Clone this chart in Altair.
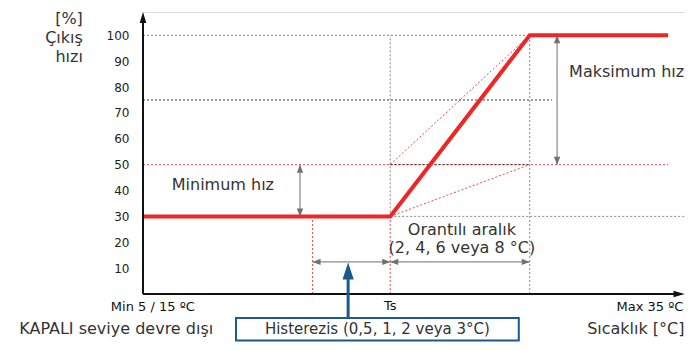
import altair as alt
import pandas as pd

FONT = "DejaVu Sans"

# ---- values (schematic temperature axis) ----
y_ticks = [10, 20, 30, 40, 50, 60, 70, 80, 90, 100]
X_MIN, X_HYST, X_TS, X_TMAX, X_END, X_AXIS_END = 0, 31, 45.2, 70.7, 96, 99.0
Y_MIN, Y_MID, Y_Q, Y_MAX, Y_TOP = 30, 50, 75, 100, 109

curve_x = [X_MIN, X_TS, X_TMAX, X_END]
curve_y = [Y_MIN, Y_MIN, Y_MAX, Y_MAX]

X_ARR_MAX, X_ARR_MIN, Y_ARR_H = 75.7, 28.7, 12.4
X_BLUE, Y_BLUE_BASE = 37.5, -9.3
BOX_X, BOX_X2, BOX_Y, BOX_Y2 = 17, 68.7, -9.3, -18.0

XD = 542 / 5.47
xs = alt.Scale(domain=[0, XD], nice=False, zero=False)
ys = alt.Scale(domain=[0, Y_TOP], nice=False, zero=False)

YAX = alt.Axis(values=y_ticks, domain=False, ticks=False, grid=False, title=None,
               labelFont=FONT, labelFontSize=12, labelColor="#222222", labelPadding=14)


def X(f):
    return alt.X(f, scale=xs, axis=None)


def Y(f):
    return alt.Y(f, scale=ys, axis=YAX)


def seg_layer(x1, y1, x2, y2, color, width=1, dash=None):
    df = pd.DataFrame({"x": x1, "y": y1, "x2": x2, "y2": y2})
    kw = dict(color=color, strokeWidth=width)
    if dash:
        kw["strokeDash"] = dash
    return alt.Chart(df).mark_rule(**kw).encode(
        x=X("x:Q"), y=Y("y:Q"), x2="x2:Q", y2="y2:Q",
    )


RED_DOT = "#f04a4a"
GRAY_DOT = "#8a8a8a"
DARK_DOT = "#3a3a3a"
RED = "#ee2626"
ARROW = "#707070"
BLUE = "#1a5a8e"
TXT = "#333333"

# dotted guide lines
red_dotted = seg_layer(
    [X_MIN, X_TS, X_HYST, X_TS, X_TS],
    [Y_MID, 0, 0, Y_MID, Y_MIN],
    [X_END, X_TS, X_HYST, X_TMAX, X_TMAX],
    [Y_MID, Y_MIN, Y_MIN, Y_MAX, Y_MID],
    RED_DOT, 1, [2, 2],
)
gray_dotted = seg_layer(
    [X_MIN, X_TS, X_TMAX, X_TS],
    [Y_MAX, Y_MIN, 0, Y_MIN],
    [X_TMAX, X_AXIS_END, X_TMAX, X_TS],
    [Y_MAX, Y_MIN, Y_MAX, Y_MAX],
    GRAY_DOT, 1, [2, 2],
)
dark_dotted = seg_layer(
    [X_MIN, X_TS],
    [Y_Q, Y_MID],
    [74.8, X_TMAX],
    [Y_Q, Y_MID],
    DARK_DOT, 1, [2, 2],
)

# main red curve
curve_df = pd.DataFrame({"x": curve_x, "y": curve_y, "o": range(len(curve_x))})
curve = alt.Chart(curve_df).mark_line(color=RED, strokeWidth=4, strokeJoin="miter").encode(
    x=X("x:Q"), y=Y("y:Q"), order="o:Q",
)

# gray dimension arrows (shafts)
shafts = seg_layer(
    [X_ARR_MAX, X_ARR_MIN, X_HYST, X_TS],
    [Y_MID, Y_MIN, Y_ARR_H, Y_ARR_H],
    [X_ARR_MAX, X_ARR_MIN, X_TS, X_TMAX],
    [Y_MAX, Y_MID, Y_ARR_H, Y_ARR_H],
    ARROW, 1,
)

TIP = "M0,0L-0.4,1L0.4,1Z"
TIP_AX = "M0,0L-0.3,1L0.3,1Z"
TIP_BLUE = "M0,0L-0.33,1L0.33,1Z"


def heads(xv, yv, ang, color, size, shape):
    df = pd.DataFrame({"x": xv, "y": yv, "a": ang})
    return alt.Chart(df).mark_point(
        shape=shape, filled=True, color=color, size=size, opacity=1, strokeWidth=0
    ).encode(
        x=X("x:Q"), y=Y("y:Q"), angle=alt.Angle("a:Q", scale=None),
    )


gray_heads = heads(
    [X_ARR_MAX, X_ARR_MAX, X_ARR_MIN, X_ARR_MIN, X_HYST, X_TS, X_TS, X_TMAX],
    [Y_MAX, Y_MID, Y_MID, Y_MIN, Y_ARR_H, Y_ARR_H, Y_ARR_H, Y_ARR_H],
    [0, 180, 0, 180, 270, 90, 270, 90],
    ARROW, 256, TIP,
)

# axes lines and arrow heads
axes_lines = seg_layer([X_MIN, X_MIN], [0, 0], [X_MIN, X_AXIS_END - 1], [Y_TOP - 2, 0], "#111111", 2)
axes_heads = heads([X_MIN, X_AXIS_END], [Y_TOP, 0], [0, 90], "#111111", 484, TIP_AX)

# blue callout
blue_shaft = seg_layer([X_BLUE], [Y_BLUE_BASE], [X_BLUE], [Y_ARR_H - 3], BLUE, 3)
blue_head = heads([X_BLUE], [Y_ARR_H - 0.2], [0], BLUE, 1156, TIP_BLUE)
box = alt.Chart(pd.DataFrame({"x": [BOX_X], "x2": [BOX_X2], "y": [BOX_Y], "y2": [BOX_Y2]})).mark_rect(
    fill="white", stroke=BLUE, strokeWidth=2
).encode(x=X("x:Q"), x2="x2:Q", y=Y("y:Q"), y2="y2:Q")


def texts(items, align, size, color=TXT):
    df = pd.DataFrame(items, columns=["t", "x", "y"])
    return alt.Chart(df).mark_text(
        align=align, baseline="middle", font=FONT, fontSize=size, color=color
    ).encode(x=X("x:Q"), y=Y("y:Q"), text="t:N")


t_big_c = texts([
    ("Minimum hız", 14.6, 42.1),
    ("Orantılı aralık", 58.3, 24.7),
    ("(2, 4, 6 veya 8 °C)", 58.3, 17.8),
    ("KAPALI seviye devre dışı", -4.9, -13.5),
], "center", 16)
t_big_l = texts([("Maksimum hız", 77.9, 85.8)], "left", 16)
t_big_r = texts([
    ("Sıcaklık [°C]", 99.0, -13.5),
    ("[%]", -11.0, 106.3),
    ("Çıkış", -11.0, 99.0),
    ("hızı", -11.0, 91.6),
], "right", 16)
t_box = texts([("Histerezis (0,5, 1, 2 veya 3°C)", (BOX_X + BOX_X2) / 2, -13.7)], "center", 15)
t_small_c = texts([("Min 5 / 15 ºC", 1.8, -5.0), ("Ts", X_TS, -4.6)], "center", 13, "#111111")
t_small_r = texts([("Max 35 ºC", 98.8, -5.0)], "right", 13, "#111111")

chart = alt.layer(
    red_dotted, gray_dotted, dark_dotted, shafts, gray_heads,
    curve, axes_lines, axes_heads, blue_shaft, box, blue_head,
    t_big_c, t_big_l, t_big_r, t_box, t_small_c, t_small_r,
).properties(
    width=542, height=282,
    autosize=alt.AutoSizeParams(type="none"),
    padding={"left": 135, "top": 4, "right": 0, "bottom": 49},
).configure_view(stroke=None).configure(background="white")

chart.save("out.html", embed_options={"renderer": "svg", "actions": False})
